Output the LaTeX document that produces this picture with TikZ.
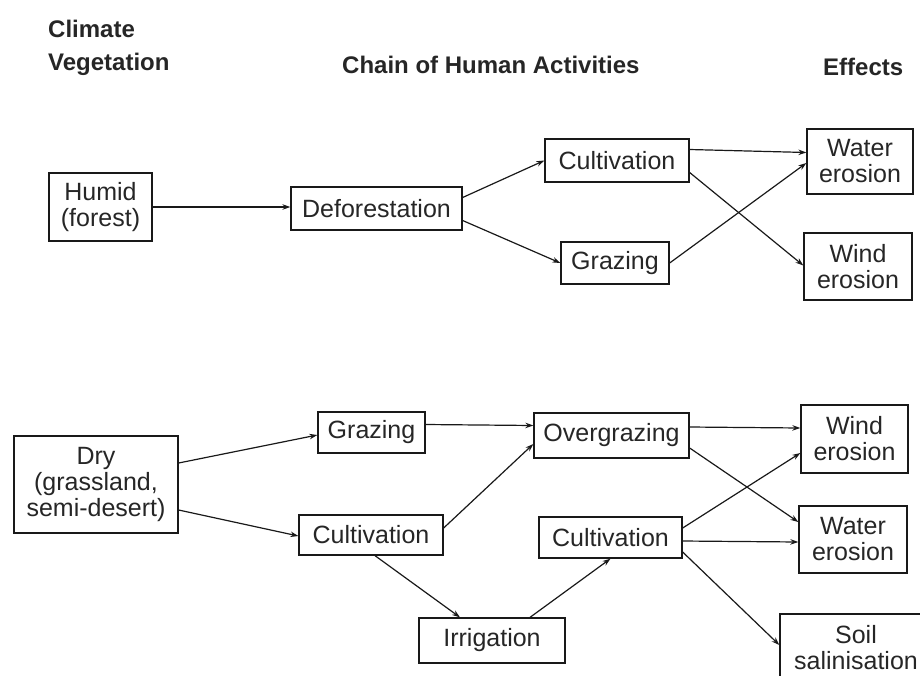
\documentclass[tikz,border=0pt]{standalone}
\usepackage{fontspec}
\setmainfont{Liberation Sans}
\usetikzlibrary{arrows.meta}
\begin{document}
\begin{tikzpicture}[x=1pt,y=-1pt,
  box/.style={draw=black!90, line width=1.3pt, inner sep=0pt, align=center,
    font=\fontsize{25}{26}\selectfont, text=black!85},
  head/.style={anchor=base west, inner sep=0pt, font=\bfseries\fontsize{24}{26}\selectfont, text=black!85},
  conn/.style={draw=black!90, line width=1.2pt, -{Stealth[length=8pt,width=5.5pt]}}
]
\useasboundingbox (0,0) rectangle (920,675);
\clip (0,0) rectangle (920,675);
% headers
\node[head] (hclim) at (48,37) {Climate};
\node[head] (hveg) at (48,70) {Vegetation};
\node[head] (hchain) at (342,73) {Chain of Human Activities};
\node[head] (heff) at (823,75) {Effects};
% top section
\node[box, minimum width=103pt, minimum height=68pt] (humid) at (100.5,207) {Humid\\(forest)};
\node[box, minimum width=171pt, minimum height=43pt] (defor) at (376.5,208.5) {Deforestation};
\node[box, minimum width=144pt, minimum height=43pt] (cultT) at (617,160.5) {Cultivation};
\node[box, minimum width=108pt, minimum height=42pt] (grazT) at (615,263) {Grazing};
\node[box, minimum width=106pt, minimum height=65pt] (waterT) at (860,161.5) {Water\\erosion};
\node[box, minimum width=108pt, minimum height=67pt] (windT) at (858,266.5) {Wind\\erosion};
% bottom section
\node[box, minimum width=164pt, minimum height=97pt] (dry) at (96,484.5) {Dry\\(grassland,\\semi-desert)};
\node[box, minimum width=107pt, minimum height=41pt] (grazB) at (371.5,432.5) {Grazing};
\node[box, minimum width=144pt, minimum height=40pt] (cultM) at (371,535) {Cultivation};
\node[box, minimum width=146pt, minimum height=45pt] (irrig) at (492,640.5) {Irrigation};
\node[box, minimum width=155pt, minimum height=45pt] (overg) at (611.5,435.5) {Overgrazing};
\node[box, minimum width=143pt, minimum height=41pt] (cultR) at (610.5,537.5) {Cultivation};
\node[box, minimum width=107pt, minimum height=68pt] (windB) at (854.5,439) {Wind\\erosion};
\node[box, minimum width=108pt, minimum height=67pt] (waterB) at (853,539.5) {Water\\erosion};
\node[box, minimum width=152pt, minimum height=68pt] (soil) at (856,648) {Soil\\salinisation};
% top connectors
\draw[conn] (humid.east) -- (humid.east -| defor.west);
\draw[conn] ([yshift=11pt]defor.east) -- (cultT.west);
\draw[conn] ([yshift=-12pt]defor.east) -- (grazT.west);
\draw[conn] ([yshift=11pt]cultT.east) -- ([yshift=9pt]waterT.west);
\draw[conn] ([yshift=-12pt]cultT.east) -- ([yshift=1pt]windT.west);
\draw[conn] (grazT.east) -- ([yshift=-1.5pt]waterT.west);
% bottom connectors
\draw[conn] ([yshift=21.5pt]dry.east) -- ([yshift=-2.5pt]grazB.west);
\draw[conn] ([yshift=-25.5pt]dry.east) -- ([yshift=-1pt]cultM.west);
\draw[conn] ([yshift=8pt]grazB.east) -- ([yshift=10pt]overg.west);
\draw[conn] ([yshift=7pt]cultM.east) -- ([yshift=-8.5pt]overg.west);
\draw[conn] ([xshift=4pt]cultM.south) -- ([xshift=-32pt]irrig.north);
\draw[conn] ([xshift=38pt]irrig.north) -- (cultR.south);
\draw[conn] ([yshift=8.5pt]overg.east) -- ([yshift=11pt]windB.west);
\draw[conn] ([yshift=-12.5pt]overg.east) -- ([yshift=17.5pt]waterB.west);
\draw[conn] ([yshift=9.5pt]cultR.east) -- ([yshift=-14pt]windB.west);
\draw[conn] ([yshift=-3.5pt]cultR.east) -- ([yshift=-2.5pt]waterB.west);
\draw[conn] ([yshift=-14.5pt]cultR.east) -- ([yshift=3pt]soil.west);
\end{tikzpicture}
\end{document}
